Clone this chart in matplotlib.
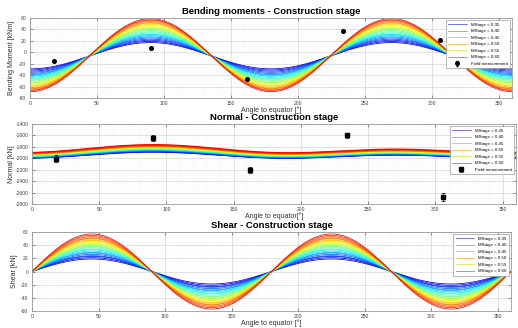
import numpy as np
import matplotlib
matplotlib.use("Agg")
import matplotlib.pyplot as plt
from matplotlib.ticker import MultipleLocator, AutoMinorLocator
from matplotlib.lines import Line2D

plt.rcParams['font.family'] = ['Liberation Sans', 'DejaVu Sans']
plt.rcParams['axes.unicode_minus'] = False

# ---- data -------------------------------------------------------------
stage_labels = ["MStage = 0.35", "MStage = 0.40", "MStage = 0.45",
                "MStage = 0.50", "MStage = 0.55", "MStage = 0.60"]
stage_colors = ['#3d3dd0', '#3c9cff', '#3fdede', '#ffaa33', '#d6e23a', '#ff3c3c']

# bending moment of each curve at the springline (0°) and crown (90°) [kNm]
bm_at_0 = [-29, -31, -33, -35, -37, -39, -40, -42, -44, -46, -47, -49,
           -51, -53, -54, -56, -58, -59, -61, -63, -64, -66, -67, -69]
bm_at_90 = [17, 19, 21, 23, 25, 27, 29, 31, 32, 34, 36, 38,
            40, 42, 43, 45, 47, 49, 51, 52, 54, 56, 57, 59]

# normal force of each curve at 0°/180°, 90° and 270° [kN]
n_at_0 = [-1995, -1992, -1988, -1984, -1980, -1976, -1972, -1968, -1964, -1960,
          -1956, -1952, -1948, -1944, -1940, -1936, -1932, -1928, -1924, -1920,
          -1916, -1912, -1906, -1900]
n_at_90 = [-1890, -1884, -1878, -1872, -1866, -1860, -1855, -1850, -1845, -1840,
           -1835, -1830, -1825, -1820, -1815, -1810, -1805, -1800, -1795, -1790,
           -1784, -1778, -1770, -1762]
n_at_270 = [-1942, -1937, -1932, -1928, -1924, -1920, -1916, -1912, -1908, -1904,
            -1900, -1896, -1892, -1888, -1884, -1880, -1876, -1872, -1868, -1864,
            -1860, -1855, -1848, -1840]

# peak shear of each curve [kN]
shear_peak = [19, 21, 23, 24, 26, 28, 29, 31, 33, 34, 36, 38,
              39, 41, 42, 44, 45, 47, 48, 50, 51, 53, 55, 57]

# field measurements
field_angle = [18, 90, 162, 234, 306]
field_bm = [-15, 7, -47, 37, 22]
field_bm_err = [2, 2, 2, 2, 2]
field_n = [-2005, -1645, -2205, -1600, -2675]
field_n_err = [55, 50, 60, 45, 70]

# ---- figure -----------------------------------------------------------
angle = np.linspace(0, 360, 721)
th = np.radians(angle)
n_curves = len(bm_at_0)
cmap = plt.get_cmap('jet')
curve_colors = cmap(np.linspace(0.08, 0.9, n_curves))

fig = plt.figure(figsize=(5.18, 3.28), dpi=100)
W, H = 518, 328


def box(l, t, r, b):
    return [l / W, 1 - b / H, (r - l) / W, (b - t) / H]


ax1 = fig.add_axes(box(30, 18, 512, 98))
ax2 = fig.add_axes(box(32, 124, 516, 204))
ax3 = fig.add_axes(box(32, 232, 511, 311))

tick_color = '#404040'


def style(ax, ylim, ystep, ylabel, xlabel, title, ylab_x, xlab_y):
    ax.set_xlim(0, 360)
    ax.set_ylim(*ylim)
    ax.xaxis.set_major_locator(MultipleLocator(50))
    ax.yaxis.set_major_locator(MultipleLocator(ystep))
    ax.xaxis.set_minor_locator(AutoMinorLocator(5))
    ax.yaxis.set_minor_locator(AutoMinorLocator(4))
    ax.grid(which='major', color='#d4d4d4', lw=0.5)
    ax.grid(which='minor', color='#e8e8e8', lw=0.35, ls=':')
    ax.set_axisbelow(True)
    ax.tick_params(which='major', direction='in', length=2, width=0.4,
                   labelsize=3.6, colors=tick_color, pad=2.5,
                   top=True, right=True)
    ax.tick_params(which='minor', length=0)
    for s in ax.spines.values():
        s.set_color('#9a9a9a')
        s.set_linewidth(0.6)
    ax.set_ylabel(ylabel, fontsize=5.0, color='#303030')
    ax.set_xlabel(xlabel, fontsize=5.0, color='#303030')
    ax.yaxis.set_label_coords(ylab_x, 0.5)
    ax.xaxis.set_label_coords(0.5, xlab_y)
    ax.set_title(title, fontsize=6.8, fontweight='bold', pad=3)


# bending moments
for m0, m90, c in zip(bm_at_0, bm_at_90, curve_colors):
    mid = (m0 + m90) / 2
    amp = (m90 - m0) / 2
    ax1.plot(angle, mid - amp * np.cos(2 * th), color=c, lw=0.55)
ax1.errorbar(field_angle, field_bm, yerr=field_bm_err, fmt='o', color='black',
             ms=2.6, elinewidth=0.5, capsize=1)
style(ax1, (-80, 60), 20, 'Bending Moment [kNm]', 'Angle to equator [°]',
      'Bending moments - Construction stage', -0.031, -0.1)

# normal forces
for n0, n90, n270, c in zip(n_at_0, n_at_90, n_at_270, curve_colors):
    b = (n90 - n270) / 2
    a = ((n90 + n270) / 2 - n0) / 2
    ax2.plot(angle, n0 + a - a * np.cos(2 * th) + b * np.sin(th), color=c, lw=0.9)
ax2.errorbar(field_angle, field_n, yerr=field_n_err, fmt='s', color='black',
             ms=2.2, elinewidth=0.5, capsize=1.2, capthick=0.5)
style(ax2, (-2800, -1400), 200, 'Normal [kN]', 'Angle to equator[°]',
      'Normal - Construction stage', -0.036, -0.105)

# shear forces
for vp, c in zip(shear_peak, curve_colors):
    ax3.plot(angle, vp * np.sin(2 * th), color=c, lw=0.55)
style(ax3, (-60, 60), 20, 'Shear [kN]', 'Angle to equator [°]',
      'Shear - Construction stage', -0.03, -0.1)

# legends
stage_handles = [Line2D([], [], color=c, lw=0.5) for c in stage_colors]
leg_kw = dict(loc='upper right', fontsize=3.2, frameon=True, fancybox=False,
              edgecolor='#9a9a9a', framealpha=1, handlelength=4.2,
              labelspacing=0.55, borderpad=0.5, handletextpad=0.9,
              borderaxespad=0.5)

for ax in (ax1, ax2):
    eb = ax.containers[0]
    lg = ax.legend(stage_handles + [eb], stage_labels + ['Field measurement'],
                   **leg_kw)
    lg.get_frame().set_linewidth(0.5)
lg = ax3.legend(stage_handles, stage_labels, **leg_kw)
lg.get_frame().set_linewidth(0.5)

fig.savefig('out.png', dpi=100)
